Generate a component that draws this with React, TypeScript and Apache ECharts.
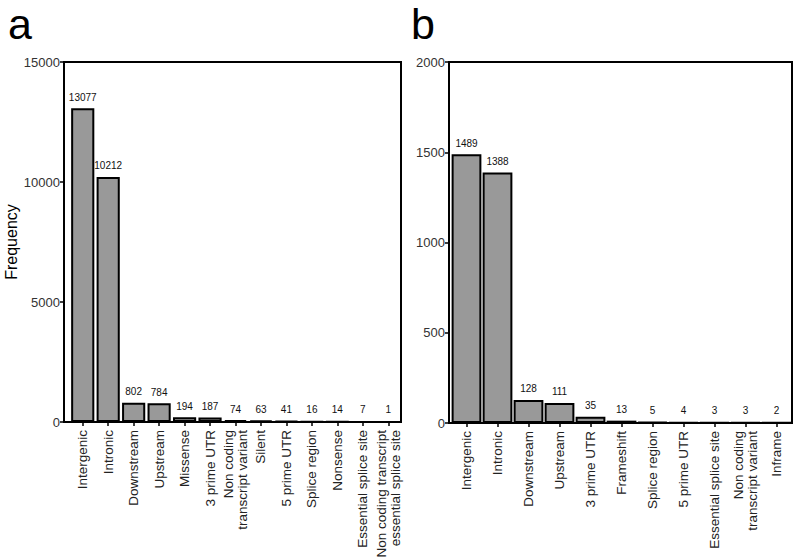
import React, { useEffect, useRef } from "react";
import * as echarts from "echarts";

const catsA = [
  "Intergenic",
  "Intronic",
  "Downstream",
  "Upstream",
  "Missense",
  "3 prime UTR",
  "Non coding\ntranscript variant",
  "Silent",
  "5 prime UTR",
  "Splice region",
  "Nonsense",
  "Essential splice site",
  "Non coding transcript\nessential splice site",
];
const valsA = [13077, 10212, 802, 784, 194, 187, 74, 63, 41, 16, 14, 7, 1];

const catsB = [
  "Intergenic",
  "Intronic",
  "Downstream",
  "Upstream",
  "3 prime UTR",
  "Frameshift",
  "Splice region",
  "5 prime UTR",
  "Essential splice site",
  "Non coding\ntranscript variant",
  "Inframe",
];
const valsB = [1489, 1388, 128, 111, 35, 13, 5, 4, 3, 3, 2];

const yMaxA = 15000;
const yStepA = 5000;
const yMaxB = 2000;
const yStepB = 500;

const FONT = "'Liberation Sans', Arial, Helvetica, sans-serif";

export default function App() {
  const ref = useRef<HTMLDivElement>(null);
  useEffect(() => {
    if (!ref.current) return;
    const chart = echarts.init(ref.current, null, { renderer: "svg" });
    const xAxisBase = (gridIndex: number, data: string[]) => ({
      type: "category",
      gridIndex,
      data,
      axisLine: { show: true, lineStyle: { color: "#000", width: 2 } },
      axisTick: { show: true, alignWithLabel: true, length: 4, lineStyle: { color: "#000", width: 1.5 } },
      axisLabel: {
        interval: 0,
        rotate: 90,
        fontSize: 13.5,
        color: "#222",
        fontFamily: FONT,
        margin: 8,
        lineHeight: 14,
      },
      splitLine: { show: false },
    });
    const yAxisBase = (gridIndex: number, max: number, step: number, offset: number) => ({
      type: "value",
      gridIndex,
      min: 0,
      max,
      interval: step,
      offset,
      axisLine: { show: true, lineStyle: { color: "#000", width: 2 } },
      axisTick: { show: true, length: 4, lineStyle: { color: "#000", width: 1.5 } },
      axisLabel: {
        fontSize: 13,
        color: "#333",
        fontFamily: FONT,
        margin: 4,
        formatter: (v: number) => String(v),
      },
      splitLine: { show: false },
    });
    const barStyle = {
      color: "#999999",
      borderColor: "#000",
      borderWidth: 2,
    };
    const labelStyle = {
      show: true,
      position: "top",
      distance: 6,
      fontSize: 10,
      color: "#111",
      fontFamily: FONT,
    };
    chart.setOption({
      animation: false,
      backgroundColor: "#fff",
      textStyle: { fontFamily: FONT },
      grid: [
        { left: 70, right: 399, top: 62, bottom: 135, containLabel: false, outerBoundsMode: "none" },
        { left: 451, right: 8, top: 62, bottom: 134, containLabel: false, outerBoundsMode: "none" },
      ],
      xAxis: [xAxisBase(0, catsA), xAxisBase(1, catsB)],
      yAxis: [
        {
          ...yAxisBase(0, yMaxA, yStepA, 6),
          name: "Frequency",
          nameLocation: "middle",
          nameGap: 36,
          nameTextStyle: { fontSize: 16, color: "#000", fontFamily: FONT },
        },
        yAxisBase(1, yMaxB, yStepB, 2),
      ],
      series: [
        {
          type: "bar",
          xAxisIndex: 0,
          yAxisIndex: 0,
          data: valsA,
          barCategoryGap: "9%",
          itemStyle: barStyle,
          label: labelStyle,
        },
        {
          type: "bar",
          xAxisIndex: 1,
          yAxisIndex: 1,
          data: valsB,
          barCategoryGap: "4%",
          itemStyle: barStyle,
          label: labelStyle,
        },
      ],
      graphic: [
        {
          type: "rect",
          shape: { x: 64, y: 62, width: 337, height: 360 },
          style: { fill: "none", stroke: "#000", lineWidth: 2 },
          z: 10,
        },
        {
          type: "rect",
          shape: { x: 449, y: 62, width: 343, height: 361 },
          style: { fill: "none", stroke: "#000", lineWidth: 2 },
          z: 10,
        },
        {
          type: "text",
          left: 8,
          top: 2,
          style: { text: "a", fontSize: 43, fill: "#000", fontFamily: FONT },
        },
        {
          type: "text",
          left: 411,
          top: 2,
          style: { text: "b", fontSize: 43, fill: "#000", fontFamily: FONT },
        },
      ],
    });
    return () => chart.dispose();
  }, []);
  return (
    <div
      ref={ref}
      style={{ position: "fixed", left: 0, top: 0, width: 800, height: 557 }}
    />
  );
}
